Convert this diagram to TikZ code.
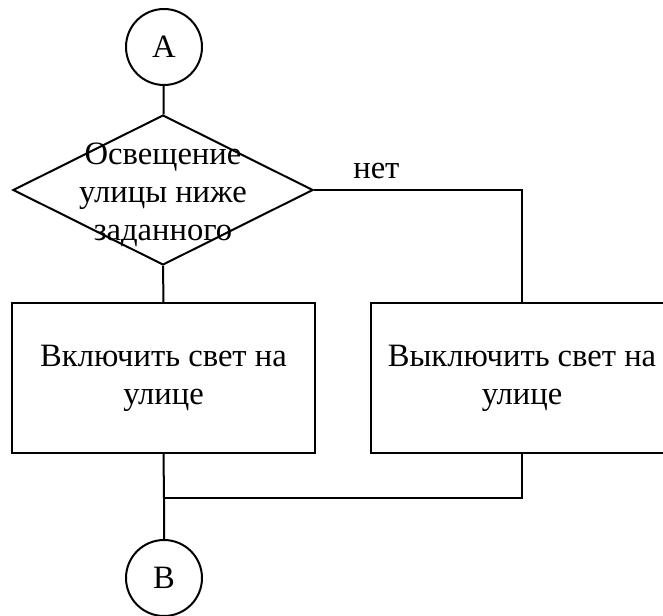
\documentclass[tikz,border=0pt]{standalone}
\usepackage{fontspec}
\setmainfont{Liberation Serif}
\usetikzlibrary{shapes.geometric}

\begin{document}
\begin{tikzpicture}[x=0.5pt, y=-0.5pt, line width=1pt,
	font=\fontsize{16.3}{19}\selectfont,
	connector/.style = {circle, draw, minimum size=38pt, inner sep=0pt},
	decision/.style  = {diamond, draw, minimum width=150pt, minimum height=75pt, inner sep=0pt},
	process/.style   = {rectangle, draw, minimum width=151.5pt, minimum height=75pt, align=center},
	]

	\useasboundingbox (0,0) rectangle (663,615);

	\node[connector] (conA) at (164,47) {A}; % entry
	\node[decision] (cond) at (163,190) {};
	\node[align=center] (condtext) at (163,195) {Освещение\\улицы ниже\\заданного};

	\node[process] (on)  at (163.5,378) {Включить свет на\\улице};
	\node[process] (off) at (522,378) {Выключить свет на\\улице};

	\node[connector] (conB) at (164,578) {B}; % exit
	\coordinate (join) at (164,498);

	\draw (conA) -- (cond);
	\draw (cond.east) -| (off.north) node[pos=0.15, above, yshift=2pt] (no) {нет};
	\draw (cond.south) -- (on.north);
	\draw (on.south) -- (join) -- (conB);
	\draw (off.south) |- (join);

\end{tikzpicture}
\end{document}
